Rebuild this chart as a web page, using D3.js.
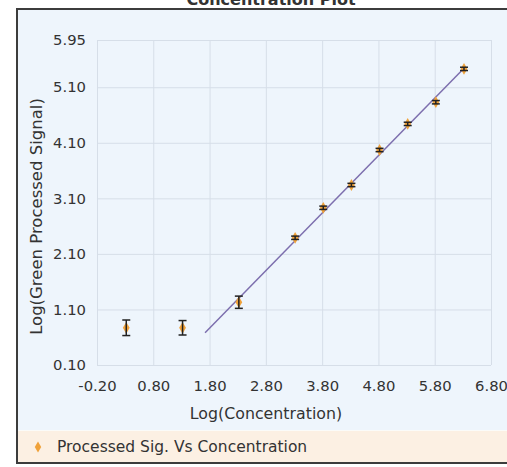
<!DOCTYPE html>
<html>
<head>
<meta charset="utf-8">
<script src="https://cdn.jsdelivr.net/npm/d3@7"></script>
<style>
body { margin: 0; background: #fff; }
text { font-family: "DejaVu Sans", sans-serif; fill: #333; }
</style>
</head>
<body>
<div id="chart"></div>
<script>
// data
const logConc = [0.32, 1.32, 2.32, 3.32, 3.82, 4.32, 4.82, 5.32, 5.82, 6.32];
const logSignal = [0.77, 0.77, 1.23, 2.39, 2.93, 3.34, 3.97, 4.44, 4.83, 5.43];
const signalErr = [0.14, 0.13, 0.11, 0.03, 0.03, 0.03, 0.03, 0.03, 0.03, 0.03];
const fitX = [1.72, 6.32];
const fitY = [0.68, 5.44];
const xTicks = [-0.2, 0.8, 1.8, 2.8, 3.8, 4.8, 5.8, 6.8];
const yTicks = [0.1, 1.1, 2.1, 3.1, 4.1, 5.1, 5.95];
const chartTitle = "Concentration Plot";
const xLabel = "Log(Concentration)";
const yLabel = "Log(Green Processed Signal)";
const legendLabel = "Processed Sig. Vs Concentration";

const fullWidth = 507;
const fullHeight = 467;
const margin = { top: 40, right: 16, bottom: 102, left: 97 };
const width = fullWidth - margin.left - margin.right;
const height = fullHeight - margin.top - margin.bottom;

const root = d3.select("#chart")
    .append("svg")
    .attr("width", fullWidth)
    .attr("height", fullHeight);

// outer panel with its border (runs off the right edge)
root.append("rect")
    .attr("x", 17).attr("y", 9)
    .attr("width", 520).attr("height", 454)
    .attr("fill", "#eef5fc")
    .attr("stroke", "#3c3c3c")
    .attr("stroke-width", 2);

// legend band
root.append("rect")
    .attr("x", 18).attr("y", 431)
    .attr("width", 500).attr("height", 31)
    .attr("fill", "#fcf0e3");
root.append("line")
    .attr("x1", 18).attr("x2", 507)
    .attr("y1", 430.5).attr("y2", 430.5)
    .attr("stroke", "#fbfbf8");

// title, mostly cut off by the top of the picture
root.append("text")
    .attr("x", 271).attr("y", 5)
    .attr("text-anchor", "middle")
    .style("font-size", "16px")
    .style("font-weight", "bold")
    .text(chartTitle);

const svg = root.append("g")
    .attr("transform", `translate(${margin.left},${margin.top})`);

const xScale = d3.scaleLinear()
    .domain([-0.2, 6.8])
    .range([0, width]);

const yScale = d3.scaleLinear()
    .domain([0.1, 5.95])
    .range([height, 0]);

// gridlines
svg.append("g")
    .attr("class", "grid")
    .attr("transform", `translate(0,${height})`)
    .call(d3.axisBottom(xScale)
        .tickValues(xTicks)
        .tickSize(-height)
        .tickFormat(""));

svg.append("g")
    .attr("class", "grid")
    .call(d3.axisLeft(yScale)
        .tickValues(yTicks)
        .tickSize(-width)
        .tickFormat(""));

svg.selectAll(".grid line").attr("stroke", "#d6dee8");
svg.selectAll(".grid .domain").remove();

// tick labels (plain hyphen for negatives, like the original)
const fmt = d => d.toFixed(2);

const xAxis = svg.append("g")
    .attr("transform", `translate(0,${height})`)
    .call(d3.axisBottom(xScale)
        .tickValues(xTicks)
        .tickSize(0)
        .tickPadding(15)
        .tickFormat(fmt));

const yAxis = svg.append("g")
    .call(d3.axisLeft(yScale)
        .tickValues(yTicks)
        .tickSize(0)
        .tickPadding(11)
        .tickFormat(fmt));

[xAxis, yAxis].forEach(a => {
    a.select(".domain").remove();
    a.selectAll("text")
        .style("font-size", "14.8px")
        .style("font-family", "'DejaVu Sans', sans-serif")
        .attr("fill", "#333");
});

// axis titles
svg.append("text")
    .attr("x", width / 2 - 28)
    .attr("y", height + 54)
    .attr("text-anchor", "middle")
    .style("font-size", "15.8px")
    .text(xLabel);

svg.append("text")
    .attr("transform", `translate(${-55},${height / 2 + 14}) rotate(-90)`)
    .attr("text-anchor", "middle")
    .style("font-size", "16.5px")
    .text(yLabel);

// fitted line
const fitData = fitX.map((x, i) => ({ x, y: fitY[i] }));
const line = d3.line()
    .x(d => xScale(d.x))
    .y(d => yScale(d.y));

svg.append("path")
    .datum(fitData)
    .attr("fill", "none")
    .attr("stroke", "#7d6fae")
    .attr("stroke-width", 1.5)
    .attr("d", line);

// points with error bars
const points = logConc.map((x, i) => ({ x, y: logSignal[i], e: signalErr[i] }));
const diamond = d3.symbol().type(d3.symbolDiamond).size(40);

svg.selectAll(".pt")
    .data(points)
    .enter().append("path")
    .attr("class", "pt")
    .attr("transform", d => `translate(${xScale(d.x)},${yScale(d.y)})`)
    .attr("d", diamond)
    .attr("fill", "#f0a23a");

const bars = svg.selectAll(".err")
    .data(points)
    .enter().append("g")
    .attr("class", "err")
    .attr("stroke", "#222")
    .attr("stroke-width", 1.5);

bars.append("line")
    .attr("x1", d => xScale(d.x)).attr("x2", d => xScale(d.x))
    .attr("y1", d => yScale(d.y - d.e)).attr("y2", d => yScale(d.y + d.e));
bars.append("line")
    .attr("x1", d => xScale(d.x) - 4).attr("x2", d => xScale(d.x) + 4)
    .attr("y1", d => yScale(d.y + d.e)).attr("y2", d => yScale(d.y + d.e));
bars.append("line")
    .attr("x1", d => xScale(d.x) - 4).attr("x2", d => xScale(d.x) + 4)
    .attr("y1", d => yScale(d.y - d.e)).attr("y2", d => yScale(d.y - d.e));

// legend
root.append("path")
    .attr("transform", "translate(38,447)")
    .attr("d", d3.symbol().type(d3.symbolDiamond).size(36))
    .attr("fill", "#f0a23a");

root.append("text")
    .attr("x", 57).attr("y", 452)
    .style("font-size", "15.5px")
    .text(legendLabel);
</script>
</body>
</html>
